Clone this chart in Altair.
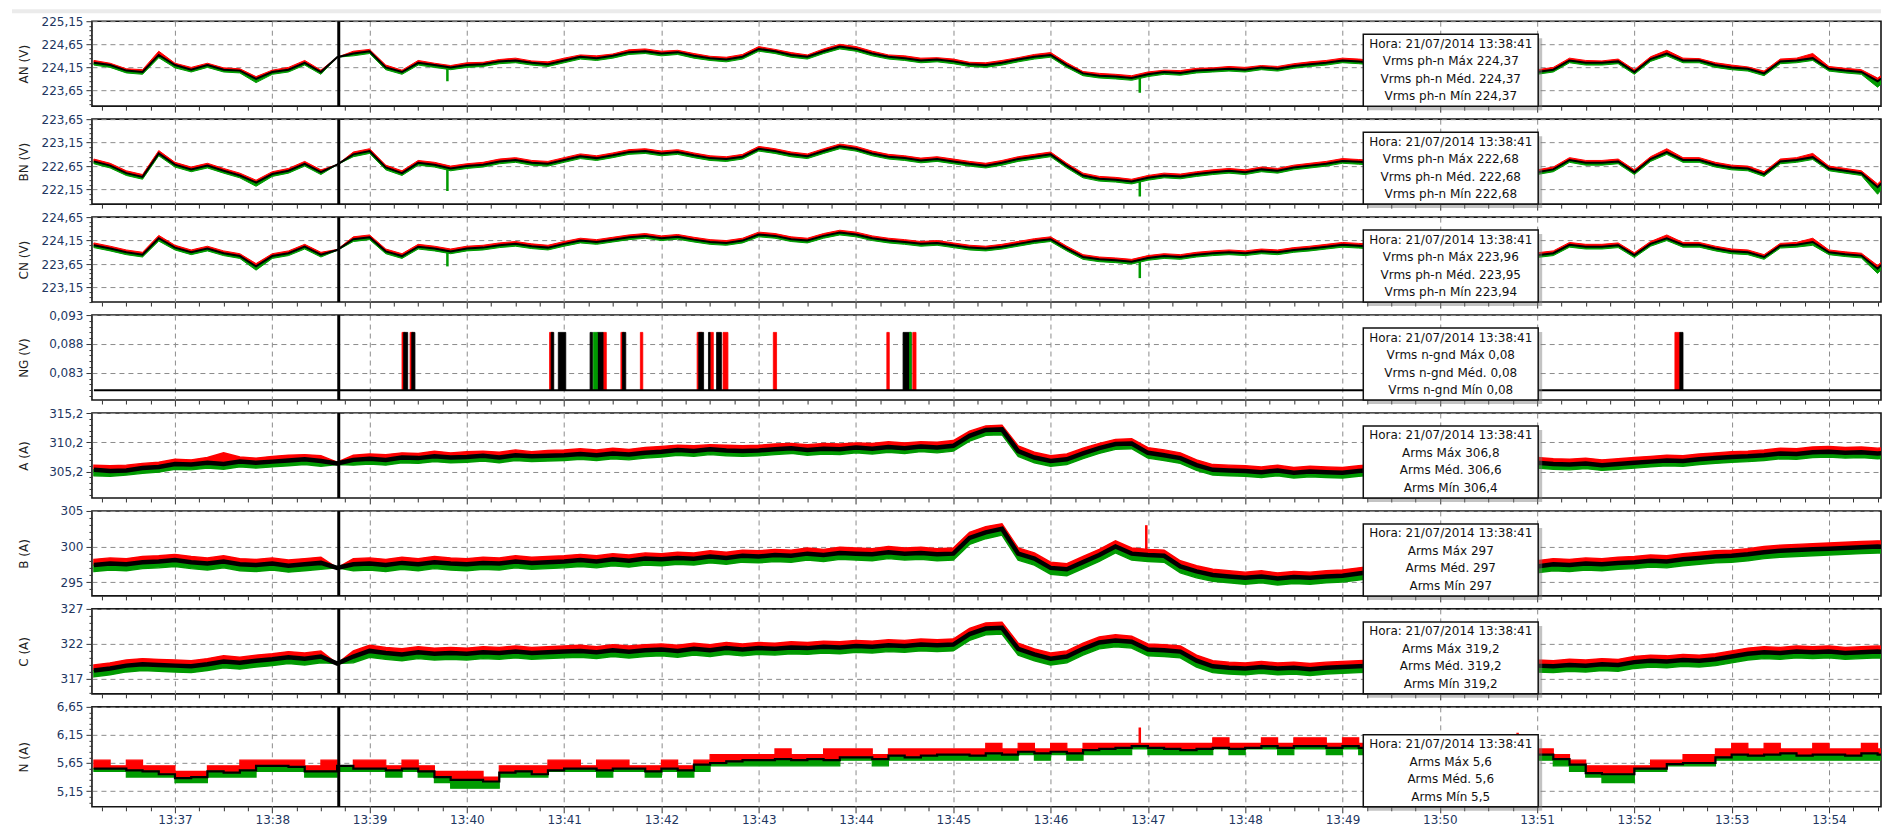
import altair as alt
import pandas as pd

# ---------------- time base (seconds after 13:00:00) ----------------
START_S = 2170          # 13:36:10, first sample
STEP_S = 10             # one sample every 10 s
X_DOMAIN = [2168.8, 3272.1]
X_TICKS = list(range(2175, 3271, 15))
CURSOR_S = 2321         # 13:38:41
HORA = "Hora: 21/07/2014 13:38:41"

# ---------------- AN (V) ----------------
AN_max = [224.30, 224.24, 224.12, 224.10, 224.50,
          224.24, 224.15, 224.24, 224.14, 224.12, 223.95,
          224.09, 224.15, 224.30, 224.09, 224.37, 224.50,
          224.54, 224.20, 224.09, 224.30, 224.24, 224.19,
          224.25, 224.26, 224.32, 224.35, 224.29, 224.27,
          224.35, 224.42, 224.40, 224.44, 224.53, 224.55,
          224.50, 224.52, 224.45, 224.39, 224.37, 224.43,
          224.60, 224.54, 224.47, 224.42, 224.55, 224.65,
          224.60, 224.50, 224.42, 224.40, 224.35, 224.36,
          224.33, 224.26, 224.25, 224.30, 224.36, 224.43,
          224.47, 224.25, 224.06, 224.02, 224.00, 223.97,
          224.05, 224.09, 224.08, 224.13, 224.14, 224.17,
          224.15, 224.19, 224.17, 224.23, 224.27, 224.30,
          224.35, 224.33, 224.30, 224.34, 224.33, 224.30,
          224.25, 224.27, 224.30, 224.25, 224.27, 224.25,
          224.10, 224.15, 224.35, 224.30, 224.29, 224.33,
          224.10, 224.38, 224.52, 224.35, 224.34, 224.25,
          224.20, 224.16, 224.07, 224.33, 224.35, 224.45,
          224.17, 224.13, 224.10, 223.92, 224.15]
AN_med = [224.25, 224.20, 224.08, 224.05, 224.42,
          224.20, 224.10, 224.20, 224.10, 224.08, 223.90,
          224.05, 224.10, 224.25, 224.05, 224.37, 224.45,
          224.50, 224.15, 224.05, 224.25, 224.20, 224.15,
          224.20, 224.22, 224.28, 224.30, 224.25, 224.22,
          224.30, 224.38, 224.35, 224.40, 224.48, 224.50,
          224.45, 224.48, 224.40, 224.35, 224.32, 224.38,
          224.55, 224.50, 224.42, 224.38, 224.50, 224.60,
          224.55, 224.45, 224.38, 224.35, 224.30, 224.32,
          224.28, 224.22, 224.20, 224.25, 224.32, 224.38,
          224.42, 224.20, 224.02, 223.97, 223.95, 223.92,
          224.00, 224.05, 224.03, 224.08, 224.10, 224.12,
          224.10, 224.15, 224.12, 224.18, 224.22, 224.25,
          224.30, 224.28, 224.25, 224.30, 224.28, 224.25,
          224.20, 224.22, 224.25, 224.20, 224.22, 224.20,
          224.05, 224.10, 224.30, 224.25, 224.25, 224.28,
          224.05, 224.33, 224.45, 224.30, 224.30, 224.20,
          224.15, 224.12, 224.02, 224.28, 224.30, 224.35,
          224.12, 224.08, 224.05, 223.85, 224.10]
AN_min = [224.20, 224.15, 224.03, 224.00, 224.36,
          224.14, 224.05, 224.15, 224.05, 224.03, 223.82,
          224.00, 224.05, 224.20, 224.00, 224.37, 224.40,
          224.45, 224.10, 224.00, 224.20, 224.15, 224.10,
          224.15, 224.17, 224.23, 224.25, 224.20, 224.17,
          224.25, 224.33, 224.30, 224.35, 224.43, 224.45,
          224.40, 224.43, 224.35, 224.30, 224.27, 224.33,
          224.50, 224.45, 224.37, 224.33, 224.45, 224.55,
          224.50, 224.40, 224.33, 224.30, 224.25, 224.27,
          224.23, 224.17, 224.15, 224.20, 224.27, 224.33,
          224.37, 224.15, 223.97, 223.92, 223.90, 223.87,
          223.95, 224.00, 223.98, 224.03, 224.05, 224.07,
          224.05, 224.10, 224.07, 224.13, 224.17, 224.20,
          224.25, 224.23, 224.20, 224.25, 224.23, 224.20,
          224.15, 224.17, 224.20, 224.15, 224.17, 224.15,
          224.00, 224.05, 224.25, 224.20, 224.20, 224.23,
          224.00, 224.28, 224.40, 224.25, 224.25, 224.15,
          224.10, 224.07, 223.97, 224.23, 224.25, 224.30,
          224.07, 224.03, 224.00, 223.72, 224.05]
AN_min_spikes = [(2388, 224.15, 223.85), (2815, 223.92, 223.60)]

# ---------------- BN (V) ----------------
BN_max = [222.80, 222.71, 222.55, 222.47, 222.98,
          222.73, 222.63, 222.71, 222.60, 222.50, 222.35,
          222.53, 222.60, 222.75, 222.57, 222.68, 222.95,
          223.02, 222.67, 222.55, 222.77, 222.73, 222.65,
          222.70, 222.73, 222.80, 222.83, 222.77, 222.75,
          222.83, 222.91, 222.87, 222.93, 223.00, 223.02,
          222.97, 223.00, 222.93, 222.87, 222.85, 222.90,
          223.07, 223.02, 222.95, 222.91, 223.02, 223.12,
          223.07, 222.97, 222.90, 222.87, 222.82, 222.85,
          222.80, 222.75, 222.71, 222.77, 222.85, 222.90,
          222.95, 222.71, 222.50, 222.43, 222.41, 222.37,
          222.45, 222.50, 222.48, 222.53, 222.57, 222.60,
          222.57, 222.63, 222.60, 222.67, 222.71, 222.75,
          222.81, 222.79, 222.77, 222.81, 222.79, 222.77,
          222.73, 222.75, 222.77, 222.73, 222.75, 222.73,
          222.57, 222.63, 222.83, 222.77, 222.77, 222.80,
          222.57, 222.85, 223.02, 222.83, 222.83, 222.73,
          222.67, 222.65, 222.53, 222.80, 222.83, 222.92,
          222.65, 222.60, 222.55, 222.27, 222.60]
BN_med = [222.75, 222.66, 222.50, 222.42, 222.92,
          222.68, 222.58, 222.66, 222.55, 222.45, 222.30,
          222.48, 222.55, 222.70, 222.52, 222.68, 222.90,
          222.97, 222.62, 222.50, 222.72, 222.68, 222.60,
          222.65, 222.68, 222.75, 222.78, 222.72, 222.70,
          222.78, 222.86, 222.82, 222.88, 222.95, 222.97,
          222.92, 222.95, 222.88, 222.82, 222.80, 222.85,
          223.02, 222.97, 222.90, 222.86, 222.97, 223.07,
          223.02, 222.92, 222.85, 222.82, 222.77, 222.80,
          222.75, 222.70, 222.66, 222.72, 222.80, 222.85,
          222.90, 222.66, 222.45, 222.38, 222.36, 222.32,
          222.40, 222.45, 222.43, 222.48, 222.52, 222.55,
          222.52, 222.58, 222.55, 222.62, 222.66, 222.70,
          222.76, 222.74, 222.72, 222.76, 222.74, 222.72,
          222.68, 222.70, 222.72, 222.68, 222.70, 222.68,
          222.52, 222.58, 222.78, 222.72, 222.72, 222.75,
          222.52, 222.80, 222.95, 222.78, 222.78, 222.68,
          222.62, 222.60, 222.48, 222.75, 222.78, 222.84,
          222.60, 222.55, 222.50, 222.20, 222.55]
BN_min = [222.70, 222.61, 222.45, 222.37, 222.87,
          222.63, 222.53, 222.61, 222.50, 222.40, 222.22,
          222.43, 222.50, 222.65, 222.47, 222.68, 222.85,
          222.92, 222.57, 222.45, 222.67, 222.63, 222.55,
          222.60, 222.63, 222.70, 222.73, 222.67, 222.65,
          222.73, 222.81, 222.77, 222.83, 222.90, 222.92,
          222.87, 222.90, 222.83, 222.77, 222.75, 222.80,
          222.97, 222.92, 222.85, 222.81, 222.92, 223.02,
          222.97, 222.87, 222.80, 222.77, 222.72, 222.75,
          222.70, 222.65, 222.61, 222.67, 222.75, 222.80,
          222.85, 222.61, 222.40, 222.33, 222.31, 222.27,
          222.35, 222.40, 222.38, 222.43, 222.47, 222.50,
          222.47, 222.53, 222.50, 222.57, 222.61, 222.65,
          222.71, 222.69, 222.67, 222.71, 222.69, 222.67,
          222.63, 222.65, 222.67, 222.63, 222.65, 222.63,
          222.47, 222.53, 222.73, 222.67, 222.67, 222.70,
          222.47, 222.75, 222.90, 222.73, 222.73, 222.63,
          222.57, 222.55, 222.43, 222.70, 222.73, 222.79,
          222.55, 222.50, 222.45, 222.05, 222.50]
BN_min_spikes = [(2388, 222.60, 222.12), (2815, 222.32, 222.00)]

# ---------------- CN (V) ----------------
CN_max = [224.10, 224.03, 223.95, 223.90, 224.26,
          224.05, 223.95, 224.03, 223.93, 223.87, 223.66,
          223.87, 223.93, 224.07, 223.90, 223.96, 224.23,
          224.27, 223.97, 223.87, 224.07, 224.03, 223.97,
          224.03, 224.05, 224.10, 224.13, 224.08, 224.05,
          224.13, 224.20, 224.17, 224.22, 224.27, 224.30,
          224.25, 224.28, 224.22, 224.17, 224.15, 224.20,
          224.33, 224.30, 224.23, 224.20, 224.30, 224.37,
          224.33, 224.25, 224.20, 224.17, 224.13, 224.15,
          224.10, 224.05, 224.03, 224.07, 224.13, 224.19,
          224.23, 224.03, 223.85, 223.80, 223.78, 223.75,
          223.83, 223.87, 223.85, 223.90, 223.93, 223.95,
          223.93, 223.97, 223.95, 224.00, 224.03, 224.07,
          224.11, 224.09, 224.07, 224.11, 224.09, 224.07,
          224.03, 224.05, 224.07, 224.03, 224.05, 224.03,
          223.89, 223.93, 224.11, 224.07, 224.07, 224.10,
          223.89, 224.13, 224.27, 224.11, 224.11, 224.03,
          223.97, 223.95, 223.85, 224.09, 224.11, 224.20,
          223.95, 223.91, 223.88, 223.62, 223.93]
CN_med = [224.05, 223.98, 223.90, 223.85, 224.20,
          224.00, 223.90, 223.98, 223.88, 223.82, 223.60,
          223.82, 223.88, 224.02, 223.85, 223.95, 224.18,
          224.22, 223.92, 223.82, 224.02, 223.98, 223.92,
          223.98, 224.00, 224.05, 224.08, 224.03, 224.00,
          224.08, 224.15, 224.12, 224.17, 224.22, 224.25,
          224.20, 224.23, 224.17, 224.12, 224.10, 224.15,
          224.28, 224.25, 224.18, 224.15, 224.25, 224.32,
          224.28, 224.20, 224.15, 224.12, 224.08, 224.10,
          224.05, 224.00, 223.98, 224.02, 224.08, 224.14,
          224.18, 223.98, 223.80, 223.75, 223.73, 223.70,
          223.78, 223.82, 223.80, 223.85, 223.88, 223.90,
          223.88, 223.92, 223.90, 223.95, 223.98, 224.02,
          224.06, 224.04, 224.02, 224.06, 224.04, 224.02,
          223.98, 224.00, 224.02, 223.98, 224.00, 223.98,
          223.84, 223.88, 224.06, 224.02, 224.02, 224.05,
          223.84, 224.08, 224.20, 224.06, 224.06, 223.98,
          223.92, 223.90, 223.80, 224.04, 224.06, 224.12,
          223.90, 223.86, 223.83, 223.55, 223.88]
CN_min = [224.00, 223.93, 223.85, 223.80, 224.14,
          223.95, 223.85, 223.93, 223.83, 223.77, 223.52,
          223.77, 223.83, 223.97, 223.80, 223.94, 224.13,
          224.17, 223.87, 223.77, 223.97, 223.93, 223.87,
          223.93, 223.95, 224.00, 224.03, 223.98, 223.95,
          224.03, 224.10, 224.07, 224.12, 224.17, 224.20,
          224.15, 224.18, 224.12, 224.07, 224.05, 224.10,
          224.23, 224.20, 224.13, 224.10, 224.20, 224.27,
          224.23, 224.15, 224.10, 224.07, 224.03, 224.05,
          224.00, 223.95, 223.93, 223.97, 224.03, 224.09,
          224.13, 223.93, 223.75, 223.70, 223.68, 223.65,
          223.73, 223.77, 223.75, 223.80, 223.83, 223.85,
          223.83, 223.87, 223.85, 223.90, 223.93, 223.97,
          224.01, 223.99, 223.97, 224.01, 223.99, 223.97,
          223.93, 223.95, 223.97, 223.93, 223.95, 223.93,
          223.79, 223.83, 224.01, 223.97, 223.97, 224.00,
          223.79, 224.03, 224.15, 224.01, 224.01, 223.93,
          223.87, 223.85, 223.75, 223.99, 224.01, 224.05,
          223.85, 223.81, 223.78, 223.45, 223.83]
CN_min_spikes = [(2388, 223.92, 223.60), (2815, 223.70, 223.35)]

# ---------------- NG (V): level 0.08, short excursions to 0.09 ----------------
NG_LOW = 0.08
NG_HIGH = 0.09
NG_SPAN = [2170, 3280]
NG_max_on = [(2360, 2362), (2365, 2367), (2451, 2453), (2484, 2486), (2495, 2497),
             (2507, 2508.5), (2542, 2545), (2550, 2552), (2558, 2561), (2589, 2591),
             (2659, 2660.5), (2675, 2677), (3145, 3148)]
NG_med_on = [(2361, 2363.5), (2366, 2368), (2452, 2453.6), (2456.4, 2461), (2476, 2477.5),
             (2480.5, 2484), (2496, 2498), (2543, 2546), (2549, 2550), (2554, 2557),
             (2669, 2674), (3148, 3150)]
NG_min_on = [(2478, 2480.5), (2673, 2674)]

# ---------------- A (A) ----------------
A_max = [306.3, 306.2, 306.3, 306.6, 306.8,
         307.3, 307.2, 307.6, 308.4, 307.7, 307.5,
         307.8, 308.0, 308.1, 307.9, 306.8, 308.0,
         308.2, 308.1, 308.4, 308.3, 308.7, 308.4,
         308.6, 308.7, 308.5, 308.9, 308.6, 308.8,
         308.9, 309.1, 308.9, 309.2, 309.0, 309.3,
         309.5, 309.7, 309.6, 309.8, 309.7, 309.6,
         309.7, 309.9, 310.0, 309.8, 310.0, 309.9,
         310.1, 310.0, 310.3, 310.1, 310.3, 310.2,
         310.5, 312.1, 313.0, 313.1, 309.6, 308.5,
         307.9, 308.2, 309.2, 310.0, 310.7, 310.8,
         309.3, 308.9, 308.4, 307.2, 306.4, 306.3,
         306.2, 306.0, 306.3, 305.9, 306.1, 306.0,
         305.9, 306.2, 306.4, 306.7, 306.9, 307.1,
         307.2, 307.3, 307.4, 307.5, 307.4, 307.5,
         307.6, 307.4, 307.3, 307.5, 307.2, 307.4,
         307.6, 307.8, 308.0, 307.9, 308.2, 308.4,
         308.6, 308.7, 308.9, 309.2, 309.1, 309.4,
         309.5, 309.3, 309.4, 309.2, 309.3]
A_med = [305.5, 305.3, 305.4, 305.8, 306.0,
         306.5, 306.4, 306.7, 306.5, 306.9, 306.7,
         306.9, 307.1, 307.3, 307.0, 306.6, 307.2,
         307.4, 307.2, 307.6, 307.5, 307.8, 307.6,
         307.7, 307.9, 307.6, 308.0, 307.8, 307.9,
         308.0, 308.2, 308.0, 308.3, 308.1, 308.4,
         308.6, 308.9, 308.7, 309.0, 308.8, 308.7,
         308.8, 309.0, 309.2, 308.9, 309.1, 309.0,
         309.3, 309.1, 309.4, 309.2, 309.5, 309.3,
         309.6, 311.3, 312.3, 312.4, 308.7, 307.6,
         307.0, 307.3, 308.3, 309.2, 309.9, 310.0,
         308.4, 308.0, 307.5, 306.3, 305.5, 305.4,
         305.3, 305.1, 305.4, 305.0, 305.2, 305.1,
         305.0, 305.3, 305.5, 305.8, 306.0, 306.2,
         306.3, 306.4, 306.5, 306.6, 306.5, 306.6,
         306.7, 306.5, 306.4, 306.6, 306.3, 306.5,
         306.7, 306.9, 307.1, 307.0, 307.3, 307.5,
         307.7, 307.8, 308.0, 308.3, 308.2, 308.5,
         308.6, 308.4, 308.5, 308.3, 308.4]
A_min = [304.5, 304.4, 304.6, 304.9, 305.1,
         305.6, 305.5, 305.8, 305.6, 306.0, 305.8,
         306.0, 306.2, 306.4, 306.1, 306.4, 306.3,
         306.5, 306.3, 306.7, 306.6, 306.9, 306.7,
         306.8, 307.0, 306.7, 307.1, 306.9, 307.0,
         307.1, 307.3, 307.1, 307.4, 307.2, 307.5,
         307.7, 308.0, 307.8, 308.1, 307.9, 307.8,
         307.9, 308.1, 308.3, 308.0, 308.2, 308.1,
         308.4, 308.2, 308.5, 308.3, 308.6, 308.4,
         308.7, 310.4, 311.4, 311.5, 307.8, 306.7,
         306.1, 306.4, 307.4, 308.3, 309.0, 309.1,
         307.5, 307.1, 306.6, 305.4, 304.6, 304.5,
         304.4, 304.2, 304.5, 304.1, 304.3, 304.2,
         304.1, 304.4, 304.6, 304.9, 305.1, 305.3,
         305.4, 305.5, 305.6, 305.7, 305.6, 305.7,
         305.8, 305.6, 305.5, 305.7, 305.4, 305.6,
         305.8, 306.0, 306.2, 306.1, 306.4, 306.6,
         306.8, 306.9, 307.1, 307.4, 307.3, 307.6,
         307.7, 307.5, 307.6, 307.4, 307.5]

# ---------------- B (A) ----------------
B_max = [298.2, 298.4, 298.3, 298.6, 298.7,
         298.9, 298.6, 298.4, 298.7, 298.3, 298.2,
         298.4, 298.1, 298.3, 298.5, 297.0, 298.3,
         298.4, 298.2, 298.5, 298.3, 298.6, 298.4,
         298.3, 298.5, 298.4, 298.7, 298.5, 298.6,
         298.7, 298.9, 298.7, 299.0, 298.8, 299.1,
         299.0, 299.2, 299.1, 299.4, 299.2, 299.5,
         299.4, 299.6, 299.5, 299.8, 299.6, 299.9,
         299.8, 299.7, 300.0, 299.8, 299.9, 299.7,
         299.8, 302.0, 302.8, 303.2, 299.8, 299.1,
         297.8, 297.6, 298.6, 299.6, 300.8, 299.8,
         299.6, 299.5, 298.0, 297.3, 296.8, 296.6,
         296.4, 296.6, 296.3, 296.5, 296.4, 296.6,
         296.7, 297.0, 297.3, 297.6, 297.8, 298.0,
         298.1, 298.0, 298.2, 298.1, 298.3, 298.2,
         298.0, 298.3, 298.2, 298.4, 298.3, 298.5,
         298.6, 298.8, 298.7, 299.0, 299.2, 299.4,
         299.5, 299.7, 300.0, 300.2, 300.3, 300.4,
         300.5, 300.6, 300.7, 300.8, 300.7]
B_med = [297.4, 297.6, 297.5, 297.8, 297.9,
         298.1, 297.8, 297.6, 297.9, 297.5, 297.4,
         297.6, 297.3, 297.5, 297.7, 297.0, 297.5,
         297.6, 297.4, 297.7, 297.5, 297.8, 297.6,
         297.5, 297.7, 297.6, 297.9, 297.7, 297.8,
         297.9, 298.1, 297.9, 298.2, 298.0, 298.3,
         298.2, 298.4, 298.3, 298.6, 298.4, 298.7,
         298.6, 298.8, 298.7, 299.0, 298.8, 299.1,
         299.0, 298.9, 299.2, 299.0, 299.1, 298.9,
         299.0, 301.2, 302.0, 302.5, 299.0, 298.3,
         297.0, 296.8, 297.8, 298.8, 300.0, 299.0,
         298.8, 298.7, 297.2, 296.5, 296.0, 295.8,
         295.6, 295.8, 295.5, 295.7, 295.6, 295.8,
         295.9, 296.2, 296.5, 296.8, 297.0, 297.2,
         297.3, 297.2, 297.4, 297.3, 297.5, 297.4,
         297.2, 297.5, 297.4, 297.6, 297.5, 297.7,
         297.8, 298.0, 297.9, 298.2, 298.4, 298.6,
         298.7, 298.9, 299.2, 299.4, 299.5, 299.6,
         299.7, 299.8, 299.9, 300.0, 299.9]
B_min = [296.5, 296.7, 296.6, 296.9, 297.0,
         297.2, 296.9, 296.7, 297.0, 296.6, 296.5,
         296.7, 296.4, 296.6, 296.8, 297.0, 296.6,
         296.7, 296.5, 296.8, 296.6, 296.9, 296.7,
         296.6, 296.8, 296.7, 297.0, 296.8, 296.9,
         297.0, 297.2, 297.0, 297.3, 297.1, 297.4,
         297.3, 297.5, 297.4, 297.7, 297.5, 297.8,
         297.7, 297.9, 297.8, 298.1, 297.9, 298.2,
         298.1, 298.0, 298.3, 298.1, 298.2, 298.0,
         298.1, 300.3, 301.1, 301.6, 298.1, 297.4,
         296.1, 295.9, 296.9, 297.9, 299.1, 298.1,
         297.9, 297.8, 296.3, 295.6, 295.1, 294.9,
         294.7, 294.9, 294.6, 294.8, 294.7, 294.9,
         295.0, 295.3, 295.6, 295.9, 296.1, 296.3,
         296.4, 296.3, 296.5, 296.4, 296.6, 296.5,
         296.3, 296.6, 296.5, 296.7, 296.6, 296.8,
         296.9, 297.1, 297.0, 297.3, 297.5, 297.7,
         297.8, 298.0, 298.3, 298.5, 298.6, 298.7,
         298.8, 298.9, 299.0, 299.1, 299.0]
B_max_spikes = [(2819, 299.0, 303.0)]

# ---------------- C (A) ----------------
C_max = [319.0, 319.3, 319.7, 319.9, 319.8,
         319.7, 319.6, 319.9, 320.3, 320.1, 320.4,
         320.6, 320.9, 320.7, 321.0, 319.2, 321.0,
         321.8, 321.5, 321.3, 321.6, 321.4, 321.5,
         321.4, 321.6, 321.5, 321.7, 321.5, 321.6,
         321.7, 321.8, 321.6, 321.9, 321.7, 321.9,
         322.0, 321.8, 322.1, 321.9, 322.2, 322.0,
         322.2, 322.1, 322.3, 322.2, 322.4, 322.3,
         322.5, 322.4, 322.6, 322.5, 322.7, 322.6,
         322.7, 324.2, 325.0, 325.1, 322.1, 321.3,
         320.7, 321.0, 322.1, 323.0, 323.3, 323.1,
         322.0, 321.9, 321.7, 320.4, 319.6, 319.4,
         319.3, 319.5, 319.3, 319.4, 319.2, 319.4,
         319.5, 319.6, 319.7, 319.8, 319.8, 319.9,
         319.9, 319.8, 320.0, 319.9, 319.8, 319.9,
         319.7, 319.6, 319.8, 319.7, 319.9, 319.8,
         320.2, 320.4, 320.3, 320.5, 320.4, 320.6,
         321.0, 321.4, 321.6, 321.5, 321.7, 321.6,
         321.7, 321.5, 321.6, 321.7, 321.6]
C_med = [318.2, 318.5, 318.9, 319.1, 319.0,
         318.9, 318.8, 319.1, 319.5, 319.3, 319.6,
         319.8, 320.1, 319.9, 320.2, 319.2, 320.2,
         321.0, 320.7, 320.5, 320.8, 320.6, 320.7,
         320.6, 320.8, 320.7, 320.9, 320.7, 320.8,
         320.9, 321.0, 320.8, 321.1, 320.9, 321.1,
         321.2, 321.0, 321.3, 321.1, 321.4, 321.2,
         321.4, 321.3, 321.5, 321.4, 321.6, 321.5,
         321.7, 321.6, 321.8, 321.7, 321.9, 321.8,
         321.9, 323.4, 324.2, 324.3, 321.3, 320.5,
         319.9, 320.2, 321.3, 322.2, 322.5, 322.3,
         321.2, 321.1, 320.9, 319.6, 318.8, 318.6,
         318.5, 318.7, 318.5, 318.6, 318.4, 318.6,
         318.7, 318.8, 318.9, 319.0, 319.0, 319.1,
         319.1, 319.0, 319.2, 319.1, 319.0, 319.1,
         318.9, 318.8, 319.0, 318.9, 319.1, 319.0,
         319.4, 319.6, 319.5, 319.7, 319.6, 319.8,
         320.2, 320.6, 320.8, 320.7, 320.9, 320.8,
         320.9, 320.7, 320.8, 320.9, 320.8]
C_min = [317.3, 317.6, 318.0, 318.2, 318.1,
         318.0, 317.9, 318.2, 318.6, 318.4, 318.7,
         318.9, 319.2, 319.0, 319.3, 319.2, 319.3,
         320.1, 319.8, 319.6, 319.9, 319.7, 319.8,
         319.7, 319.9, 319.8, 320.0, 319.8, 319.9,
         320.0, 320.1, 319.9, 320.2, 320.0, 320.2,
         320.3, 320.1, 320.4, 320.2, 320.5, 320.3,
         320.5, 320.4, 320.6, 320.5, 320.7, 320.6,
         320.8, 320.7, 320.9, 320.8, 321.0, 320.9,
         321.0, 322.5, 323.3, 323.4, 320.4, 319.6,
         319.0, 319.3, 320.4, 321.3, 321.6, 321.4,
         320.3, 320.2, 320.0, 318.7, 317.9, 317.7,
         317.6, 317.8, 317.6, 317.7, 317.5, 317.7,
         317.8, 317.9, 318.0, 318.1, 318.1, 318.2,
         318.2, 318.1, 318.3, 318.2, 318.1, 318.2,
         318.0, 317.9, 318.1, 318.0, 318.2, 318.1,
         318.5, 318.7, 318.6, 318.8, 318.7, 318.9,
         319.3, 319.7, 319.9, 319.8, 320.0, 319.9,
         320.0, 319.8, 319.9, 320.0, 319.9]

# ---------------- N (A) ----------------
N_max = [5.7, 5.6, 5.7, 5.6, 5.6,
         5.5, 5.5, 5.6, 5.6, 5.7, 5.7,
         5.7, 5.7, 5.6, 5.7, 5.6, 5.7,
         5.7, 5.6, 5.7, 5.6, 5.5, 5.5,
         5.5, 5.4, 5.6, 5.6, 5.6, 5.7,
         5.7, 5.6, 5.7, 5.7, 5.6, 5.6,
         5.7, 5.6, 5.7, 5.8, 5.8, 5.8,
         5.8, 5.9, 5.8, 5.8, 5.9, 5.9,
         5.9, 5.8, 5.9, 5.9, 5.9, 5.9,
         5.9, 5.9, 6.0, 5.9, 6.0, 5.9,
         6.0, 5.9, 6.0, 6.0, 6.0, 6.0,
         6.0, 6.0, 6.0, 6.0, 6.1, 6.0,
         6.0, 6.1, 6.0, 6.1, 6.1, 6.0,
         6.1, 6.0, 6.0, 6.0, 6.0, 6.0,
         6.0, 6.0, 6.0, 5.9, 6.0, 5.9,
         5.9, 5.8, 5.7, 5.6, 5.6, 5.6,
         5.6, 5.7, 5.7, 5.8, 5.8, 5.9,
         6.0, 5.9, 6.0, 5.9, 5.9, 6.0,
         5.9, 5.9, 6.0, 5.9, 5.9]
N_med = [5.55, 5.55, 5.52, 5.50, 5.45,
         5.38, 5.40, 5.50, 5.48, 5.52, 5.60,
         5.60, 5.58, 5.50, 5.50, 5.60, 5.55,
         5.55, 5.52, 5.55, 5.50, 5.40, 5.35,
         5.35, 5.32, 5.48, 5.50, 5.45, 5.52,
         5.55, 5.55, 5.52, 5.55, 5.55, 5.50,
         5.55, 5.52, 5.62, 5.65, 5.68, 5.70,
         5.70, 5.72, 5.70, 5.72, 5.70, 5.75,
         5.75, 5.72, 5.78, 5.75, 5.78, 5.80,
         5.80, 5.78, 5.82, 5.80, 5.85, 5.82,
         5.85, 5.82, 5.88, 5.90, 5.92, 5.95,
         5.92, 5.90, 5.88, 5.90, 5.92, 5.90,
         5.92, 5.95, 5.92, 5.95, 5.95, 5.92,
         5.95, 5.92, 5.90, 5.92, 5.90, 5.90,
         5.88, 5.90, 5.88, 5.85, 5.88, 5.85,
         5.80, 5.72, 5.62, 5.47, 5.45, 5.45,
         5.55, 5.55, 5.63, 5.65, 5.65, 5.75,
         5.80, 5.78, 5.80, 5.82, 5.78, 5.80,
         5.80, 5.78, 5.82, 5.80, 5.78]
N_min = [5.5, 5.5, 5.4, 5.4, 5.4,
         5.3, 5.3, 5.4, 5.4, 5.4, 5.5,
         5.5, 5.5, 5.4, 5.4, 5.5, 5.5,
         5.5, 5.4, 5.5, 5.4, 5.3, 5.2,
         5.2, 5.2, 5.4, 5.4, 5.4, 5.5,
         5.5, 5.5, 5.4, 5.5, 5.5, 5.4,
         5.5, 5.4, 5.5, 5.6, 5.6, 5.6,
         5.6, 5.6, 5.6, 5.6, 5.6, 5.7,
         5.7, 5.6, 5.7, 5.7, 5.7, 5.7,
         5.7, 5.7, 5.7, 5.7, 5.8, 5.7,
         5.8, 5.7, 5.8, 5.8, 5.8, 5.9,
         5.8, 5.8, 5.8, 5.8, 5.9, 5.8,
         5.9, 5.9, 5.8, 5.9, 5.9, 5.8,
         5.9, 5.8, 5.8, 5.8, 5.8, 5.8,
         5.8, 5.8, 5.8, 5.8, 5.8, 5.8,
         5.7, 5.6, 5.5, 5.4, 5.3, 5.3,
         5.5, 5.5, 5.6, 5.6, 5.6, 5.7,
         5.7, 5.7, 5.7, 5.7, 5.7, 5.7,
         5.7, 5.7, 5.7, 5.7, 5.7]
N_max_spikes = [(2815, 5.95, 6.28), (3048, 5.90, 6.19)]

# ---------------- panel definitions ----------------
PANELS = [
    dict(title="AN (V)", domain=[223.31, 225.15], majors=[223.65, 224.15, 224.65, 225.15], minor=0.1, fmt=".2f",
         series=(AN_max, AN_med, AN_min), kind="v", spikes=[(AN_min_spikes, "min")],
         box=["Vrms ph-n Máx 224,37", "Vrms ph-n Méd. 224,37", "Vrms ph-n Mín 224,37"]),
    dict(title="BN (V)", domain=[221.84, 223.65], majors=[222.15, 222.65, 223.15, 223.65], minor=0.1, fmt=".2f",
         series=(BN_max, BN_med, BN_min), kind="v", spikes=[(BN_min_spikes, "min")],
         box=["Vrms ph-n Máx 222,68", "Vrms ph-n Méd. 222,68", "Vrms ph-n Mín 222,68"]),
    dict(title="CN (V)", domain=[222.84, 224.65], majors=[223.15, 223.65, 224.15, 224.65], minor=0.1, fmt=".2f",
         series=(CN_max, CN_med, CN_min), kind="v", spikes=[(CN_min_spikes, "min")],
         box=["Vrms ph-n Máx 223,96", "Vrms ph-n Méd. 223,95", "Vrms ph-n Mín 223,94"]),
    dict(title="NG (V)", domain=[0.0783, 0.093], majors=[0.083, 0.088, 0.093], minor=0.001, fmt=".3f",
         series=None, kind="ng", spikes=[],
         box=["Vrms n-gnd Máx 0,08", "Vrms n-gnd Méd. 0,08", "Vrms n-gnd Mín 0,08"]),
    dict(title="A (A)", domain=[300.7, 315.2], majors=[305.2, 310.2, 315.2], minor=1.0, fmt=".1f",
         series=(A_max, A_med, A_min), kind="i", spikes=[],
         box=["Arms Máx 306,8", "Arms Méd. 306,6", "Arms Mín 306,4"]),
    dict(title="B (A)", domain=[293.06, 305.0], majors=[295, 300, 305], minor=1.0, fmt=".0f",
         series=(B_max, B_med, B_min), kind="i", spikes=[(B_max_spikes, "max")],
         box=["Arms Máx 297", "Arms Méd. 297", "Arms Mín 297"]),
    dict(title="C (A)", domain=[314.87, 327.0], majors=[317, 322, 327], minor=1.0, fmt=".0f",
         series=(C_max, C_med, C_min), kind="i", spikes=[],
         box=["Arms Máx 319,2", "Arms Méd. 319,2", "Arms Mín 319,2"]),
    dict(title="N (A)", domain=[4.87, 6.65], majors=[5.15, 5.65, 6.15, 6.65], minor=0.1, fmt=".2f",
         series=(N_max, N_med, N_min), kind="n", spikes=[(N_max_spikes, "max")],
         box=["Arms Máx 5,6", "Arms Méd. 5,6", "Arms Mín 5,5"]),
]

W = 1790
H = 85
H_LAST = 100
FONT = "DejaVu Sans"
LABEL_COLOR = "#22365f"
RED, GREEN, BLACK = "#ff0000", "#009a00", "#000000"
BOX_X0, BOX_X1 = 1272, 1447


def y_axis(p, h):
    lo, hi = p["domain"]
    m0 = p["majors"][0]
    step = p["majors"][1] - p["majors"][0]
    mn = p["minor"]
    vals = []
    for k in range(-200, 200):
        v = round(m0 + k * mn, 5)
        if lo - 1e-9 <= v <= hi + 1e-9:
            vals.append(v)
    test = f"abs((datum.value - ({m0}))/{step} - round((datum.value - ({m0}))/{step})) < 0.01"
    return alt.Axis(
        values=vals,
        labelExpr=f"{test} ? replace(format(datum.value, '{p['fmt']}'), '.', ',') : ''",
        labelOverlap=False, labelFlush=False, labelPadding=3,
        tickSize={"condition": {"test": test, "value": 6}, "value": 3},
        grid=True, gridOpacity={"condition": {"test": test, "value": 1}, "value": 0},
        title=p["title"], titleX=-68, titleY=h / 2, titleAngle=-90,
        titleAlign="center", titleBaseline="middle",
    )


def x_axis(last):
    test = "datum.value % 60 == 0"
    return alt.Axis(
        values=X_TICKS, labels=last,
        labelExpr=f"{test} ? '13:' + format(floor(datum.value / 60), '02d') : ''",
        labelOverlap=False, labelFlush=False, labelPadding=2,
        tickSize={"condition": {"test": test, "value": 6}, "value": 4},
        grid=True, gridOpacity={"condition": {"test": test, "value": 1}, "value": 0},
        title=None,
    )


def build_panel(p, h, first, last):
    xscale = alt.Scale(domain=X_DOMAIN, nice=False, zero=False)
    yscale = alt.Scale(domain=p["domain"], nice=False, zero=False)
    xax = x_axis(last)
    yax = y_axis(p, h)
    X = alt.X("t:Q", scale=xscale, axis=xax)
    layers = []
    one = pd.DataFrame({"k": [0]})
    if first:
        # thin light-grey window strip above the first panel
        layers.append(alt.Chart(one).mark_rect(color="#ebebeb")
                      .encode(x=alt.value(-80), x2=alt.value(W), y=alt.value(-12), y2=alt.value(-8)))
    if p["series"] is not None:
        mx, md, mn = p["series"]
        df = pd.DataFrame({
            "t": [START_S + STEP_S * i for i in range(len(md))],
            "max": mx, "med": md, "min": mn,
        })
        interp = "step-after" if p["kind"] == "n" else "linear"
        black_w = {"v": 2.0, "i": 4.5, "n": 2.2}[p["kind"]]
        edge_w = {"v": 1.0, "i": 1.4, "n": 1.2}[p["kind"]]
        base = alt.Chart(df)
        layers.append(base.mark_area(interpolate=interp, color=RED, clip=True,
                                     stroke=RED, strokeWidth=edge_w)
                      .encode(x=X, y=alt.Y("max:Q", scale=yscale, axis=yax), y2="med:Q"))
        layers.append(base.mark_area(interpolate=interp, color=GREEN, clip=True,
                                     stroke=GREEN, strokeWidth=edge_w)
                      .encode(x=X, y=alt.Y("min:Q", scale=yscale, axis=yax), y2="med:Q"))
        for spikes, which in p["spikes"]:
            sdf = pd.DataFrame(spikes, columns=["t", "lo", "hi"])
            layers.append(alt.Chart(sdf)
                          .mark_rule(color=RED if which == "max" else GREEN, strokeWidth=2.5, clip=True)
                          .encode(x=X, y=alt.Y("lo:Q", scale=yscale, axis=yax), y2="hi:Q"))
        layers.append(base.mark_line(interpolate=interp, color=BLACK, strokeWidth=black_w, clip=True)
                      .encode(x=X, y=alt.Y("med:Q", scale=yscale, axis=yax)))
    else:
        rows = []
        for name, lst in (("max", NG_max_on), ("med", NG_med_on), ("min", NG_min_on)):
            for a, b in lst:
                rows.append({"t0": a, "t1": b, "lo": NG_LOW, "hi": NG_HIGH, "s": name})
        rdf = pd.DataFrame(rows)
        rbase = alt.Chart(rdf).encode(x=alt.X("t0:Q", scale=xscale, axis=xax), x2="t1:Q",
                                      y=alt.Y("lo:Q", scale=yscale, axis=yax), y2="hi:Q")
        for s, col in (("max", RED), ("med", BLACK), ("min", GREEN)):
            layers.append(rbase.transform_filter(alt.datum.s == s)
                          .mark_rect(color=col, clip=True, stroke=col, strokeWidth=0.8))
        bdf = pd.DataFrame({"t": NG_SPAN, "v": [NG_LOW, NG_LOW]})
        layers.append(alt.Chart(bdf).mark_line(color=BLACK, strokeWidth=2, clip=True)
                      .encode(x=X, y=alt.Y("v:Q", scale=yscale, axis=yax)))
    # cursor
    layers.append(alt.Chart(pd.DataFrame({"t": [CURSOR_S]}))
                  .mark_rule(color="black", strokeWidth=3)
                  .encode(x=X))
    # info box
    layers.append(alt.Chart(one).mark_rect(color="#7a7a7a", opacity=0.45)
                  .encode(x=alt.value(BOX_X0 + 4), x2=alt.value(BOX_X1 + 4),
                          y=alt.value(h - 72 + 4), y2=alt.value(h + 4)))
    layers.append(alt.Chart(one).mark_rect(fill="white", stroke="#111", strokeWidth=1.5)
                  .encode(x=alt.value(BOX_X0), x2=alt.value(BOX_X1),
                          y=alt.value(h - 72), y2=alt.value(h)))
    for j, line in enumerate([HORA] + p["box"]):
        layers.append(alt.Chart(pd.DataFrame({"txt": [line]}))
                      .mark_text(font=FONT, fontSize=12, color="#111", align="center", baseline="middle")
                      .encode(text="txt:N", x=alt.value((BOX_X0 + BOX_X1) / 2),
                              y=alt.value(h - 62.5 + 17.5 * j)))
    return alt.layer(*layers).properties(width=W, height=h)


charts = []
for idx, p in enumerate(PANELS):
    last = idx == len(PANELS) - 1
    charts.append(build_panel(p, H_LAST if last else H, idx == 0, last))

chart = (
    alt.vconcat(*charts, spacing=13, bounds="flush")
    .properties(padding={"left": 3, "top": 0, "right": 0, "bottom": 0})
    .configure_view(stroke="#151515", strokeWidth=1.6)
    .configure_axis(
        domain=False, tickColor="#333333", tickWidth=1,
        gridColor="#8c8c8c", gridDash=[5, 4], gridWidth=1,
        labelFont=FONT, labelFontSize=12, labelColor=LABEL_COLOR,
        titleFont=FONT, titleFontSize=12, titleFontWeight="normal", titleColor="#222222",
    )
)

chart.save("out.html", embed_options={"renderer": "svg", "actions": False})
